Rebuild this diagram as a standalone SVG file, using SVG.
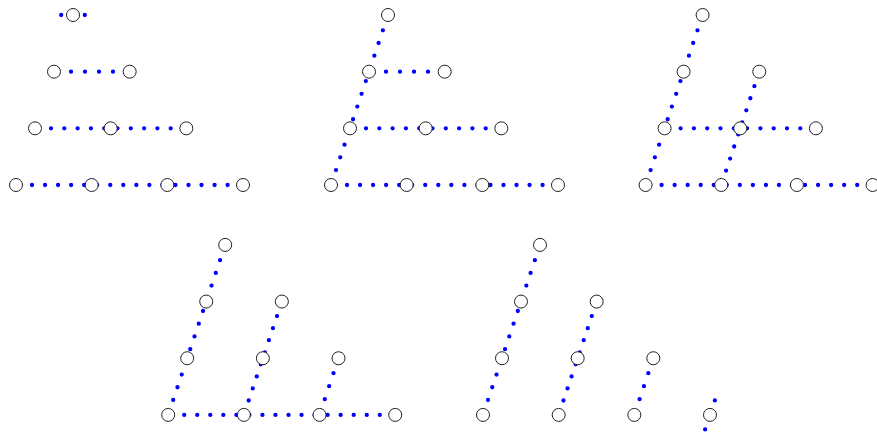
<svg xmlns="http://www.w3.org/2000/svg" xmlns:xlink="http://www.w3.org/1999/xlink" width="877" height="433" viewBox="0 0 877 433">
<style>
.n{fill:#fff;stroke:#222;stroke-width:1}
.e{stroke:#0000ff;stroke-width:4.3;stroke-linecap:round;fill:none}
</style>
<defs>
<line id="r0" class="e" x1="61.2" y1="15" x2="85.3" y2="15" stroke-dasharray="0 23.6"/>
<line id="r1" class="e" x1="71" y1="71.67" x2="113.5" y2="71.67" stroke-dasharray="0 14"/>
<line id="r2" class="e" x1="51" y1="128.33" x2="171.2" y2="128.33" stroke-dasharray="0 13.3"/>
<line id="r3" class="e" x1="32" y1="185" x2="228.1" y2="185" stroke-dasharray="0 13.04"/>
<line id="d1" class="e" x1="67.87" y1="30.3" x2="20.86" y2="170.5" stroke-dasharray="0 13.4"/>
<line id="d2" class="e" x1="124.8" y1="86.2" x2="96.36" y2="171" stroke-dasharray="0 12.72"/>
<line id="d3" class="e" x1="181.31" y1="143.3" x2="172.43" y2="169.8" stroke-dasharray="0 13.71"/>
<line id="dg" class="e" x1="247.86" y1="170.5" x2="237.98" y2="199.97" stroke-dasharray="0 30.6"/>
</defs>
<g id="connectors">
  <g transform="translate(0,0)"><use href="#r0"/><use href="#r1"/><use href="#r2"/><use href="#r3"/></g>
  <g transform="translate(315,0)"><use href="#d1"/><use href="#r1"/><use href="#r2"/><use href="#r3"/></g>
  <g transform="translate(629.6,0)"><use href="#d1"/><use href="#d2"/><use href="#r2"/><use href="#r3"/></g>
  <g transform="translate(152.2,229.9)"><use href="#d1"/><use href="#d2"/><use href="#d3"/><use href="#r3"/></g>
  <g transform="translate(467,229.9)"><use href="#d1"/><use href="#d2"/><use href="#d3"/><use href="#dg"/></g>
</g>
<g id="panel1" transform="translate(0,0)">
  <g id="a00"><circle class="n" cx="73" cy="15" r="6.5"/></g>
  <g id="a10"><circle class="n" cx="54" cy="71.67" r="6.5"/></g>
  <g id="a11"><circle class="n" cx="129.67" cy="71.67" r="6.5"/></g>
  <g id="a20"><circle class="n" cx="35" cy="128.33" r="6.5"/></g>
  <g id="a21"><circle class="n" cx="110.67" cy="128.33" r="6.5"/></g>
  <g id="a22"><circle class="n" cx="186.33" cy="128.33" r="6.5"/></g>
  <g id="a30"><circle class="n" cx="16" cy="185" r="6.5"/></g>
  <g id="a31"><circle class="n" cx="91.67" cy="185" r="6.5"/></g>
  <g id="a32"><circle class="n" cx="167.33" cy="185" r="6.5"/></g>
  <g id="a33"><circle class="n" cx="243" cy="185" r="6.5"/></g>
</g>
<g id="panel2" transform="translate(315,0)">
  <g id="b00"><circle class="n" cx="73" cy="15" r="6.5"/></g>
  <g id="b10"><circle class="n" cx="54" cy="71.67" r="6.5"/></g>
  <g id="b11"><circle class="n" cx="129.67" cy="71.67" r="6.5"/></g>
  <g id="b20"><circle class="n" cx="35" cy="128.33" r="6.5"/></g>
  <g id="b21"><circle class="n" cx="110.67" cy="128.33" r="6.5"/></g>
  <g id="b22"><circle class="n" cx="186.33" cy="128.33" r="6.5"/></g>
  <g id="b30"><circle class="n" cx="16" cy="185" r="6.5"/></g>
  <g id="b31"><circle class="n" cx="91.67" cy="185" r="6.5"/></g>
  <g id="b32"><circle class="n" cx="167.33" cy="185" r="6.5"/></g>
  <g id="b33"><circle class="n" cx="243" cy="185" r="6.5"/></g>
</g>
<g id="panel3" transform="translate(629.6,0)">
  <g id="c00"><circle class="n" cx="73" cy="15" r="6.5"/></g>
  <g id="c10"><circle class="n" cx="54" cy="71.67" r="6.5"/></g>
  <g id="c11"><circle class="n" cx="129.67" cy="71.67" r="6.5"/></g>
  <g id="c20"><circle class="n" cx="35" cy="128.33" r="6.5"/></g>
  <g id="c21"><circle class="n" cx="110.67" cy="128.33" r="6.5"/></g>
  <g id="c22"><circle class="n" cx="186.33" cy="128.33" r="6.5"/></g>
  <g id="c30"><circle class="n" cx="16" cy="185" r="6.5"/></g>
  <g id="c31"><circle class="n" cx="91.67" cy="185" r="6.5"/></g>
  <g id="c32"><circle class="n" cx="167.33" cy="185" r="6.5"/></g>
  <g id="c33"><circle class="n" cx="243" cy="185" r="6.5"/></g>
</g>
<g id="panel4" transform="translate(152.2,229.9)">
  <g id="d00"><circle class="n" cx="73" cy="15" r="6.5"/></g>
  <g id="d10"><circle class="n" cx="54" cy="71.67" r="6.5"/></g>
  <g id="d11"><circle class="n" cx="129.67" cy="71.67" r="6.5"/></g>
  <g id="d20"><circle class="n" cx="35" cy="128.33" r="6.5"/></g>
  <g id="d21"><circle class="n" cx="110.67" cy="128.33" r="6.5"/></g>
  <g id="d22"><circle class="n" cx="186.33" cy="128.33" r="6.5"/></g>
  <g id="d30"><circle class="n" cx="16" cy="185" r="6.5"/></g>
  <g id="d31"><circle class="n" cx="91.67" cy="185" r="6.5"/></g>
  <g id="d32"><circle class="n" cx="167.33" cy="185" r="6.5"/></g>
  <g id="d33"><circle class="n" cx="243" cy="185" r="6.5"/></g>
</g>
<g id="panel5" transform="translate(467,229.9)">
  <g id="e00"><circle class="n" cx="73" cy="15" r="6.5"/></g>
  <g id="e10"><circle class="n" cx="54" cy="71.67" r="6.5"/></g>
  <g id="e11"><circle class="n" cx="129.67" cy="71.67" r="6.5"/></g>
  <g id="e20"><circle class="n" cx="35" cy="128.33" r="6.5"/></g>
  <g id="e21"><circle class="n" cx="110.67" cy="128.33" r="6.5"/></g>
  <g id="e22"><circle class="n" cx="186.33" cy="128.33" r="6.5"/></g>
  <g id="e30"><circle class="n" cx="16" cy="185" r="6.5"/></g>
  <g id="e31"><circle class="n" cx="91.67" cy="185" r="6.5"/></g>
  <g id="e32"><circle class="n" cx="167.33" cy="185" r="6.5"/></g>
  <g id="e33"><circle class="n" cx="243" cy="185" r="6.5"/></g>
</g>
</svg>
